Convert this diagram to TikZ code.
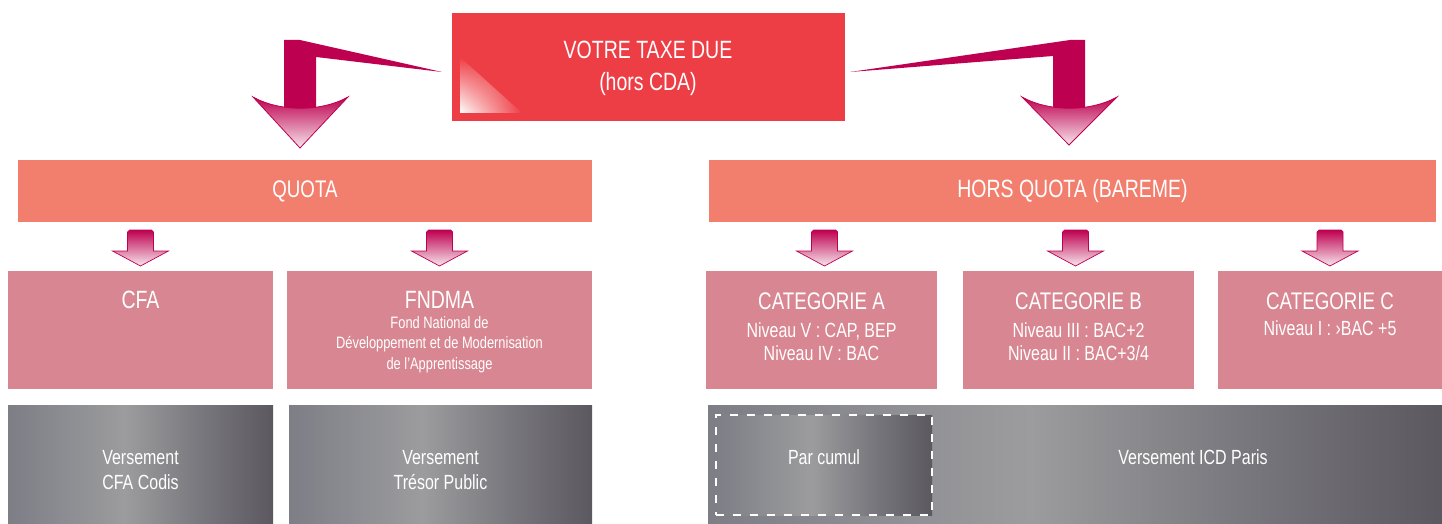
\documentclass[tikz,border=0pt]{standalone}
\usepackage{fontspec}
\setmainfont{Liberation Sans}[FakeStretch=0.78]
\usetikzlibrary{calc,shadings}
\definecolor{redbox}{HTML}{EE3E45}
\definecolor{salmon}{HTML}{F27F6E}
\definecolor{pinkbox}{HTML}{D88691}
\definecolor{mag}{HTML}{BE0050}
\definecolor{headlow}{HTML}{F7E6EC}
\definecolor{ga}{HTML}{7D7E86}
\definecolor{gb}{HTML}{9C9C9E}
\definecolor{gc}{HTML}{77767C}
\definecolor{gd}{HTML}{5B595F}
\pgfdeclarehorizontalshading{grayh}{100bp}{color(0bp)=(ga); color(25bp)=(ga); color(47bp)=(gb); color(62bp)=(gc); color(75bp)=(gd); color(100bp)=(gd)}
\newcommand\fsz[2]{\fontsize{#1}{#2}\selectfont}
\begin{document}
\begin{tikzpicture}[x=1pt,y=-1pt,
  blk/.style={rectangle, inner sep=0pt, outer sep=0pt, anchor=north west},
  salmonbox/.style={blk, fill=salmon, minimum height=62pt},
  pbox/.style={blk, fill=pinkbox, minimum height=118pt},
  gbox/.style={blk, shade, shading=grayh, minimum height=119pt},
  txt/.style={text=white, align=center, inner sep=0pt},
  sarrow/.pic={
    \shade[top color=mag, middle color=mag, bottom color=headlow, draw=mag, line width=0.7pt]
      (-13,2) -- (-11,0) -- (11,0) -- (13,2) -- (13,21) -- (28,21) -- (0,36) -- (-28,21) -- (-13,21) -- cycle;
  }]
\useasboundingbox (0,0) rectangle (1442,524);

% top box
\node[blk, fill=redbox, minimum width=393pt, minimum height=108pt] (top) at (452,13) {};
\shade[lower left=white, upper left=redbox, lower right=redbox, upper right=redbox]
  (460,57) -- (460,113) -- (522,113) -- cycle;
\node[txt, font=\fsz{25}{32}] (topT) at (648,68) {VOTRE TAXE DUE\\(hors CDA)};

% big arrows
\fill[mag] (284,40) -- (300,40) -- (442,72) -- (316,57) -- (316,108) -- (284,108) -- cycle;
\shade[top color=mag, bottom color=headlow, draw=mag, line width=0.8pt]
  (253,97) .. controls (280,112) and (321,112) .. (348,97) -- (300,148) -- cycle;
\fill[mag] (850,72) -- (1070,40) -- (1085,40) -- (1085,108) -- (1053,108) -- (1053,56) -- cycle;
\shade[top color=mag, bottom color=headlow, draw=mag, line width=0.8pt]
  (1022,97) .. controls (1049,112) and (1090,112) .. (1117,97) -- (1069,145) -- cycle;

% level 2 bars
\node[salmonbox, minimum width=574pt] (quota) at (18,160) {};
\node[txt, font=\fsz{24}{28}] (quotaT) at (quota.center) {QUOTA};
\node[salmonbox, minimum width=727pt] (hq) at (709,160) {};
\node[txt, font=\fsz{25}{28}] (hqT) at (hq.center) {HORS QUOTA (BAREME)};

% level 3 boxes
\node[pbox, minimum width=265pt] (cfa) at (8,271) {};
\node[pbox, minimum width=305pt] (fndma) at (287,271) {};
\node[pbox, minimum width=231pt] (catA) at (706,271) {};
\node[pbox, minimum width=231pt] (catB) at (963,271) {};
\node[pbox, minimum width=224pt] (catC) at (1218,271) {};

\node[txt, font=\fsz{25}{30}] (cfaT) at ($(cfa.north)+(0,29)$) {CFA};
\node[txt, font=\fsz{25}{30}] (fndmaT) at ($(fndma.north)+(0,29)$) {FNDMA};
\node[txt, font=\fsz{16.5}{20.5}] (fndmaS) at ($(fndma.north)+(0,73.5)$) {Fond National de\\Développement et de Modernisation\\de l’Apprentissage};
\node[txt, font=\fsz{24}{28}] (catAT) at ($(catA.north)+(0,30)$) {CATEGORIE A};
\node[txt, font=\fsz{20.5}{23}] (catAS) at ($(catA.north)+(0,70.5)$) {Niveau V : CAP, BEP\\Niveau IV : BAC};
\node[txt, font=\fsz{24}{28}] (catBT) at ($(catB.north)+(0,30)$) {CATEGORIE B};
\node[txt, font=\fsz{20.5}{23}] (catBS) at ($(catB.north)+(0,70.5)$) {Niveau III : BAC+2\\Niveau II : BAC+3/4};
\node[txt, font=\fsz{24}{28}] (catCT) at ($(catC.north)+(0,30)$) {CATEGORIE C};
\node[txt, font=\fsz{20.5}{23}] (catCS) at ($(catC.north)+(0,57)$) {Niveau I : ›BAC +5};

% small arrows
\pic at ($(cfa.north)+(0,-41)$) {sarrow};
\pic at ($(fndma.north)+(0,-41)$) {sarrow};
\pic at ($(catA.north)+(3,-41)$) {sarrow};
\pic at ($(catB.north)+(-3,-41)$) {sarrow};
\pic at ($(catC.north)+(0,-41)$) {sarrow};

% level 4 gray boxes
\node[gbox, minimum width=265pt] (g1) at (8,405) {};
\node[gbox, minimum width=303pt] (g2) at (289,405) {};
\node[gbox, minimum width=734pt] (g3) at (708,405) {};
\node[blk, shade, shading=grayh, draw=white, line width=2.6pt, dash pattern=on 8pt off 9pt, minimum width=216pt, minimum height=100pt] (cumul) at (716,415) {};

\node[txt, font=\fsz{20.5}{25}] (g1T) at ($(g1.north)+(0,65)$) {Versement\\CFA Codis};
\node[txt, font=\fsz{20.5}{25}] (g2T) at ($(g2.north)+(0,65)$) {Versement\\Trésor Public};
\node[txt, font=\fsz{20.5}{25}] (cumulT) at ($(cumul.north)+(0,42)$) {Par cumul};
\node[txt, font=\fsz{20.5}{25}] (g3T) at (1193,457) {Versement ICD Paris};
\end{tikzpicture}
\end{document}
